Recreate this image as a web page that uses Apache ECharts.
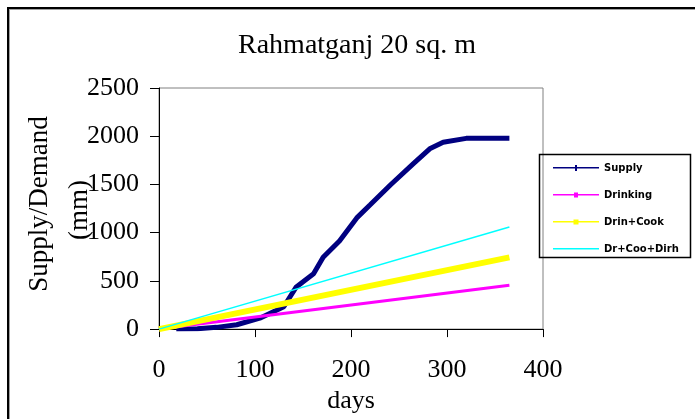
<!DOCTYPE html>
<html>
<head>
<meta charset="utf-8">
<script src="https://cdn.jsdelivr.net/npm/echarts@6/dist/echarts.min.js"></script>
<style>html,body{margin:0;padding:0;background:#fff;}#c{width:695px;height:419px;}</style>
</head>
<body>
<div id="c"></div>
<script>
var titleText = 'Rahmatganj 20 sq. m';
var seriesNames = ['Supply', 'Drinking', 'Drin+Cook', 'Dr+Coo+Dirh'];
var xTicks = [0, 100, 200, 300, 400];
var yTicks = [0, 500, 1000, 1500, 2000, 2500];
var supplyData = [[18,0],[40,4],[60,18],[81,45],[105,113],[130,232],[143,437],[161,573],[171,744],[188,914],[206,1153],[220,1289],[241,1494],[265,1715],[282,1869],[296,1937],[320,1978],[365,1978]];
var drinkingData = [[0,0],[365,454]];
var drinCookData = [[0,0],[365,744]];
var drCooDishData = [[0,0],[365,1058]];

var chart = echarts.init(document.getElementById('c'));
var serif = 'Liberation Serif';
var lineBar = 'M0,2L46,2L46,3.6L0,3.6Z';
var icons = [
  'path://' + lineBar + 'M22,0L24,0L24,6L22,6Z',
  'path://' + lineBar + 'M21,0.5L25,0.5L25,5.5L21,5.5Z M23,0L23.01,0L23.01,6L23,6Z',
  'path://' + lineBar + 'M20.5,0.5L25.5,0.5L25.5,5.5L20.5,5.5Z M23,0L23.01,0L23.01,6L23,6Z',
  'path://' + lineBar + 'M23,0L23.01,0L23.01,6L23,6Z'
];
chart.setOption({
  backgroundColor: '#fff',
  animation: false,
  title: {
    text: titleText, left: 352, top: 27, textAlign: 'center',
    textStyle: {fontFamily: serif, fontSize: 28, fontWeight: 'normal', color: '#000'}
  },
  grid: {left: 159, right: 152, top: 88, bottom: 86, show: true, borderColor: '#808080', borderWidth: 1, backgroundColor: 'transparent'},
  legend: {
    orient: 'vertical', left: 548, top: 158, itemWidth: 46, itemHeight: 6, itemGap: 17,
    textStyle: {fontFamily: 'DejaVu Sans', fontSize: 10, fontWeight: 'bold', color: '#000'},
    data: seriesNames.map(function (n, i) { return {name: n, icon: icons[i]}; })
  },
  xAxis: {
    type: 'value', min: xTicks[0], max: xTicks[xTicks.length-1], interval: 100,
    name: 'days', nameLocation: 'middle', nameGap: 43,
    nameTextStyle: {fontFamily: serif, fontSize: 26, color: '#000'},
    axisLine: {show: true, onZero: false, lineStyle: {color: '#000', width: 1}},
    axisTick: {show: true, length: 8, lineStyle: {color: '#000'}},
    axisLabel: {fontFamily: serif, fontSize: 26, color: '#000', margin: 28},
    splitLine: {show: false}
  },
  yAxis: {
    type: 'value', min: yTicks[0], max: yTicks[yTicks.length-1], interval: 500,
    axisLine: {show: true, onZero: false, lineStyle: {color: '#000', width: 1}},
    axisTick: {show: true, length: 9, lineStyle: {color: '#000'}},
    axisLabel: {fontFamily: serif, fontSize: 26, color: '#000', margin: 20, formatter: function (v) { return String(v); }},
    splitLine: {show: false}
  },
  graphic: [
    {type: 'rect', shape: {x: 7, y: 7, width: 700, height: 2}, style: {fill: '#000'}, silent: true},
    {type: 'rect', shape: {x: 9, y: 9, width: 700, height: 1}, style: {fill: '#a0a0a0'}, silent: true},
    {type: 'rect', shape: {x: 7, y: 7, width: 2, height: 420}, style: {fill: '#000'}, silent: true},
    {type: 'rect', shape: {x: 9, y: 9, width: 1, height: 420}, style: {fill: '#a0a0a0'}, silent: true},
    {type: 'rect', shape: {x: 539.5, y: 154.5, width: 151, height: 103}, style: {fill: 'none', stroke: '#000', lineWidth: 1.5}, silent: true, z: 0},
    {type: 'text', x: 40, y: 204, rotation: Math.PI/2, style: {text: 'Supply/Demand', font: '27px "Liberation Serif"', fill: '#000', textAlign: 'center', textVerticalAlign: 'middle'}},
    {type: 'text', x: 80, y: 210, rotation: Math.PI/2, style: {text: '(mm)', font: '27px "Liberation Serif"', fill: '#000', textAlign: 'center', textVerticalAlign: 'middle'}}
  ],
  series: [
    {name: seriesNames[0], type: 'line', data: supplyData, symbol: 'none', lineStyle: {color: '#000080', width: 5}, itemStyle: {color: '#000080'}},
    {name: seriesNames[1], type: 'line', data: drinkingData, symbol: 'none', lineStyle: {color: '#ff00ff', width: 3}, itemStyle: {color: '#ff00ff'}},
    {name: seriesNames[2], type: 'line', data: drinCookData, symbol: 'none', lineStyle: {color: '#ffff00', width: 6}, itemStyle: {color: '#ffff00'}},
    {name: seriesNames[3], type: 'line', data: drCooDishData, symbol: 'none', lineStyle: {color: '#00ffff', width: 1.5}, itemStyle: {color: '#00ffff'}}
  ]
});
</script>
</body>
</html>
